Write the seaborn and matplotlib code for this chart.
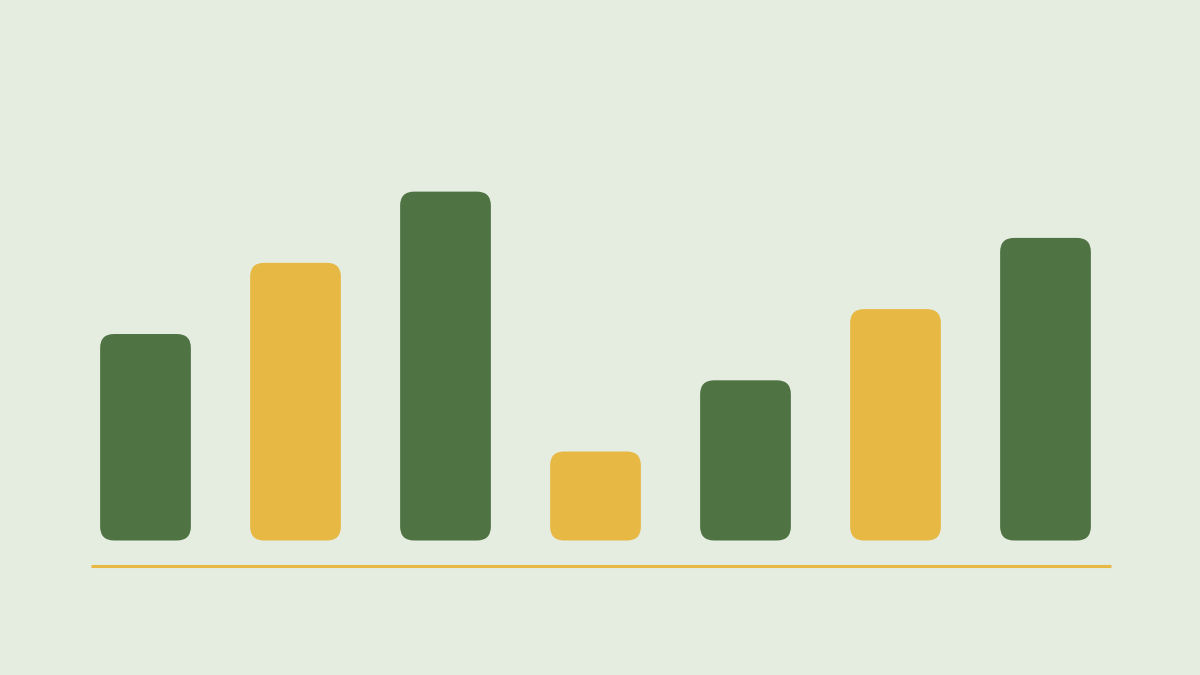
import pandas as pd
import matplotlib
matplotlib.use("Agg")
import matplotlib.pyplot as plt
import seaborn as sns
from matplotlib.patches import FancyBboxPatch

# Data
categories = ["A", "B", "C", "D", "E", "F", "G"]
values = [58, 78, 98, 25, 45, 65, 85]
groups = ["green", "gold", "green", "gold", "green", "gold", "green"]

BG = "#e4ede0"
GREEN = "#507344"
GOLD = "#e8b845"

df = pd.DataFrame({"category": categories, "value": values, "group": groups})

sns.set_theme(style="white")
fig = plt.figure(figsize=(12, 6.75), dpi=100, facecolor=BG)
ax = fig.add_axes([0, 0, 1, 1], facecolor=BG)

sns.barplot(data=df, x="category", y="value", hue="group",
            palette={"green": GREEN, "gold": GOLD}, width=0.605,
            saturation=1, dodge=False, legend=False, ax=ax)

# pixel-based scales: 150 px per category, 3.56 px per value unit
px_x, px_y = 150.0, 3.56
x0_px, y0_px = 145.5, 675 - 540.5
ax.set_xlim(-x0_px / px_x, (1200 - x0_px) / px_x)
ax.set_ylim(-y0_px / px_y, (675 - y0_px) / px_y)

# swap the flat bars for rounded ones
radius_px = 14
aspect = px_x / px_y
for p in list(ax.patches):
    x, y = p.get_x(), p.get_y()
    w, h = p.get_width(), p.get_height()
    if h <= 0:
        continue
    color = p.get_facecolor()
    p.remove()
    rb = FancyBboxPatch((x, y), w, h,
                        boxstyle=f"round,pad=0,rounding_size={radius_px / px_x}",
                        mutation_aspect=aspect,
                        facecolor=color, edgecolor="none", linewidth=0)
    ax.add_patch(rb)

# baseline below the bars
n = len(categories)
ax.hlines(-25 / px_y, -55 / px_x, (n - 1) + 65 / px_x, color=GOLD, linewidth=2.2)

ax.set_axis_off()
fig.savefig("out.png", dpi=100, facecolor=BG)
